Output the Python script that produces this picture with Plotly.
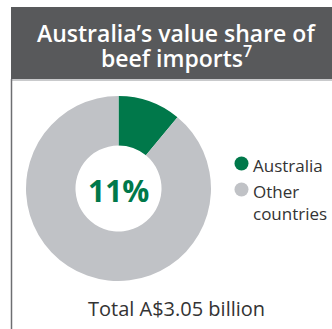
import plotly.graph_objects as go

# Share of beef import value by origin
labels = ["Australia", "Other countries"]
shares = [11, 89]
colors = ["#00784A", "#C0C2C6"]
title_lines = ["Australia’s value share of", "beef imports<sup>7</sup>"]
centre_label = f"{shares[0]}%"
total_label = "Total A$3.05 billion"

W, H = 332, 329
FONT = "Open Sans"


def px(x):
    return x / W


def py(y):
    return 1 - y / H


fig = go.Figure()

fig.add_trace(go.Pie(
    labels=labels,
    values=shares,
    marker=dict(colors=colors, line=dict(width=0)),
    sort=False,
    direction="clockwise",
    rotation=0,
    hole=0.465,
    textinfo="none",
    hoverinfo="label+percent",
    showlegend=False,
    domain=dict(x=[px(26), px(211)], y=[py(281), py(96)]),
))

shapes = [
    # header band
    dict(type="rect", xref="paper", yref="paper",
         x0=px(11), x1=1, y0=py(79), y1=py(7),
         fillcolor="#58595B", line=dict(width=0), layer="below"),
    # thin rule under the header
    dict(type="rect", xref="paper", yref="paper",
         x0=px(11), x1=1, y0=py(81), y1=py(79),
         fillcolor="#C9CACC", line=dict(width=0), layer="below"),
    # left frame line
    dict(type="line", xref="paper", yref="paper",
         x0=px(11.5), x1=px(11.5), y0=0, y1=py(79),
         line=dict(color="#6D6E71", width=1.5)),
]

annotations = [
    dict(text=f"<b>{centre_label}</b>", x=px(118), y=py(190), xref="paper", yref="paper",
         showarrow=False, xanchor="center", yanchor="middle",
         font=dict(family=FONT, size=30, color=colors[0])),
    dict(text=total_label, x=px(176), y=py(308), xref="paper", yref="paper",
         showarrow=False, xanchor="center", yanchor="middle",
         font=dict(family=FONT, size=20, color="#333333")),
]

# two-line header title, placed line by line for tighter leading
for line, yc in zip(title_lines, [33, 57]):
    annotations.append(dict(text=line, x=px(176), y=py(yc), xref="paper", yref="paper",
                            showarrow=False, xanchor="center", yanchor="middle",
                            font=dict(family=FONT, size=23, color="white", weight=600)))

# hand-drawn legend with round markers
legend_rows = [163.5, 189.5]
for lab, col, yc in zip(labels, colors, legend_rows):
    r = 7
    shapes.append(dict(type="circle", xref="paper", yref="paper",
                       x0=px(241.5 - r), x1=px(241.5 + r),
                       y0=py(yc + r), y1=py(yc - r),
                       fillcolor=col, line=dict(width=0)))
    annotations.append(dict(text=lab.replace(" ", "<br>"), x=px(251), y=py(yc - 12),
                            xref="paper", yref="paper", showarrow=False,
                            xanchor="left", yanchor="top", align="left",
                            font=dict(family=FONT, size=17, color="#333333")))

fig.update_layout(
    width=W, height=H,
    margin=dict(l=0, r=0, t=0, b=0),
    paper_bgcolor="white",
    plot_bgcolor="white",
    shapes=shapes,
    annotations=annotations,
)

fig.write_html("out.html")
